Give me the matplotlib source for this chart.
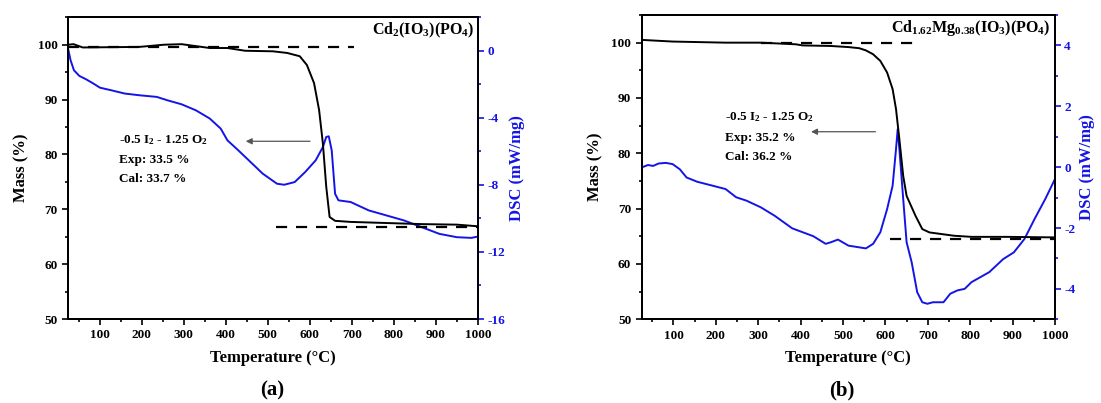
import numpy as np
import matplotlib
matplotlib.use("Agg")
import matplotlib.pyplot as plt
from matplotlib.ticker import MultipleLocator

plt.rcParams["font.family"] = "Liberation Serif"
plt.rcParams["font.weight"] = "bold"
plt.rcParams["axes.unicode_minus"] = False
plt.rcParams["mathtext.fontset"] = "custom"
plt.rcParams["mathtext.rm"] = "Liberation Serif:bold"
plt.rcParams["mathtext.it"] = "Liberation Serif:bold"
plt.rcParams["mathtext.bf"] = "Liberation Serif:bold"

# panel (a): Cd2(IO3)(PO4)
a_mass_t = [25, 38, 60, 194, 253, 295, 362, 404, 446, 512, 546, 576, 593, 610, 622, 631, 639, 647, 660, 697, 782, 866, 950, 1000]
a_mass = [100.0, 100.1, 99.5, 99.6, 100.0, 100.1, 99.4, 99.4, 98.9, 98.8, 98.5, 97.9, 96.3, 93.0, 88.1, 82.0, 74.1, 68.6, 67.9, 67.7, 67.5, 67.3, 67.2, 66.9]
a_dsc_t = [25, 31, 39, 52, 68, 85, 101, 127, 160, 194, 236, 261, 295, 329, 362, 388, 404, 430, 463, 488, 522, 539, 564, 589, 614, 631, 639, 645, 652, 660, 668, 697, 740, 782, 824, 866, 908, 950, 984, 1000]
a_dsc = [0.14, -0.56, -1.16, -1.5, -1.7, -1.95, -2.2, -2.35, -2.55, -2.65, -2.75, -2.95, -3.19, -3.55, -4.04, -4.64, -5.34, -5.94, -6.73, -7.33, -7.93, -7.99, -7.83, -7.23, -6.53, -5.74, -5.14, -5.1, -5.94, -8.53, -8.92, -9.02, -9.52, -9.82, -10.12, -10.52, -10.92, -11.12, -11.16, -11.08]

# panel (b): Cd1.62Mg0.38(IO3)(PO4)
b_mass_t = [25, 98, 223, 306, 389, 405, 471, 513, 538, 554, 571, 588, 604, 617, 625, 633, 642, 650, 671, 687, 704, 762, 803, 886, 1000]
b_mass = [100.5, 100.2, 100.0, 100.0, 99.7, 99.5, 99.4, 99.2, 99.0, 98.6, 97.9, 96.7, 94.6, 91.6, 88.0, 82.5, 75.9, 72.3, 68.7, 66.3, 65.7, 65.1, 64.9, 64.9, 64.8]
b_dsc_t = [25, 40, 52, 65, 82, 98, 115, 131, 156, 198, 223, 248, 272, 306, 339, 380, 430, 459, 471, 488, 513, 554, 571, 588, 604, 617, 625, 629, 633, 642, 650, 662, 675, 687, 699, 712, 737, 753, 770, 787, 803, 845, 878, 903, 928, 952, 977, 1000]
b_dsc = [-0.01, 0.07, 0.04, 0.12, 0.14, 0.10, -0.07, -0.34, -0.48, -0.63, -0.72, -0.99, -1.10, -1.32, -1.60, -2.01, -2.27, -2.52, -2.47, -2.38, -2.58, -2.67, -2.52, -2.14, -1.38, -0.61, 0.59, 1.25, 0.59, -1.05, -2.47, -3.13, -4.11, -4.44, -4.49, -4.44, -4.44, -4.16, -4.05, -4.0, -3.78, -3.45, -3.02, -2.80, -2.36, -1.70, -1.05, -0.39]

blue = "#1414e6"

panels = [
    dict(rect=[0.0618, 0.2084, 0.3724, 0.7487], mt=a_mass_t, m=a_mass, dt=a_dsc_t, d=a_dsc,
         dlim=(-16, 2), dmaj=4, dmin=2, name="Cd$_2$(IO$_3$)(PO$_4$)",
         dash1=(25, 705, 99.5), dash2=(520, 1000, 66.7),
         txt_x=145, txt_y=[82.6, 78.9, 75.6], exp="Exp: 33.5 %", cal="Cal: 33.7 %",
         arrow=(607, 441, 82.4), tag="(a)", tag_x=0.247),
    dict(rect=[0.5828, 0.2077, 0.3754, 0.7551], mt=b_mass_t, m=b_mass, dt=b_dsc_t, d=b_dsc,
         dlim=(-5, 5), dmaj=2, dmin=1, name="Cd$_{1.62}$Mg$_{0.38}$(IO$_3$)(PO$_4$)",
         dash1=(306, 684, 100.0), dash2=(612, 1000, 64.6),
         txt_x=221, txt_y=[86.6, 82.7, 79.4], exp="Exp: 35.2 %", cal="Cal: 36.2 %",
         arrow=(583, 418, 83.9), tag="(b)", tag_x=0.765),
]

fig = plt.figure(figsize=(11.01, 4.03), dpi=100)

for p in panels:
    ax = fig.add_axes(p["rect"])
    ax2 = ax.twinx()
    ax.plot(p["mt"], p["m"], color="black", lw=1.4, zorder=3)
    ax2.plot(p["dt"], p["d"], color=blue, lw=1.4)
    ax.plot(p["dash1"][:2], [p["dash1"][2]] * 2, color="black", lw=1.6, ls=(0, (5, 4)))
    ax.plot(p["dash2"][:2], [p["dash2"][2]] * 2, color="black", lw=1.6, ls=(0, (5, 4)))

    ax.set_xlim(25, 1000)
    ax.set_ylim(50, 105)
    ax2.set_ylim(*p["dlim"])
    ax.set_zorder(ax2.get_zorder() + 1)
    ax.patch.set_visible(False)

    ax.xaxis.set_major_locator(MultipleLocator(100))
    ax.xaxis.set_minor_locator(MultipleLocator(50))
    ax.yaxis.set_major_locator(MultipleLocator(10))
    ax.yaxis.set_minor_locator(MultipleLocator(5))
    ax2.yaxis.set_major_locator(MultipleLocator(p["dmaj"]))
    ax2.yaxis.set_minor_locator(MultipleLocator(p["dmin"]))
    ax.set_xticks(range(100, 1001, 100))

    ax.tick_params(which="both", direction="out", labelsize=9.5, width=1.2)
    ax.tick_params(which="major", length=4)
    ax.tick_params(which="minor", length=2.5)
    ax2.tick_params(which="both", direction="out", colors=blue, labelsize=9.5, width=1.2, pad=2.5)
    ax2.tick_params(which="major", length=4)
    ax2.tick_params(which="minor", length=2.5)
    for s in ax.spines.values():
        s.set_linewidth(1.4)
    for s in ax2.spines.values():
        s.set_linewidth(1.4)
    ax2.spines["right"].set_color(blue)

    ax.set_xlabel("Temperature (°C)", fontsize=12, fontweight="bold", labelpad=6)
    ax.set_ylabel("Mass (%)", fontsize=12, fontweight="bold", labelpad=6)
    ax2.set_ylabel("DSC (mW/mg)", fontsize=12, fontweight="bold", color=blue, labelpad=3)

    ax.text(0.99, 0.958, p["name"], transform=ax.transAxes, ha="right", va="center",
            fontsize=11.5, fontweight="bold")
    ax.text(p["txt_x"], p["txt_y"][0], "-0.5 I$_2$ - 1.25 O$_2$", fontsize=9.5,
            fontweight="bold", va="center", zorder=5)
    ax.text(p["txt_x"], p["txt_y"][1], p["exp"], fontsize=9.5, fontweight="bold", va="center")
    ax.text(p["txt_x"], p["txt_y"][2], p["cal"], fontsize=9.5, fontweight="bold", va="center")
    x0, x1, ya = p["arrow"]
    ax.annotate("", xy=(x1, ya), xytext=(x0, ya),
                arrowprops=dict(arrowstyle="-|>", color="#555555", lw=0.9,
                                mutation_scale=9))

    fig.text(p["tag_x"], 0.032, p["tag"], fontsize=15, fontweight="bold",
             ha="center", va="center")

fig.savefig("out.png", dpi=100)
